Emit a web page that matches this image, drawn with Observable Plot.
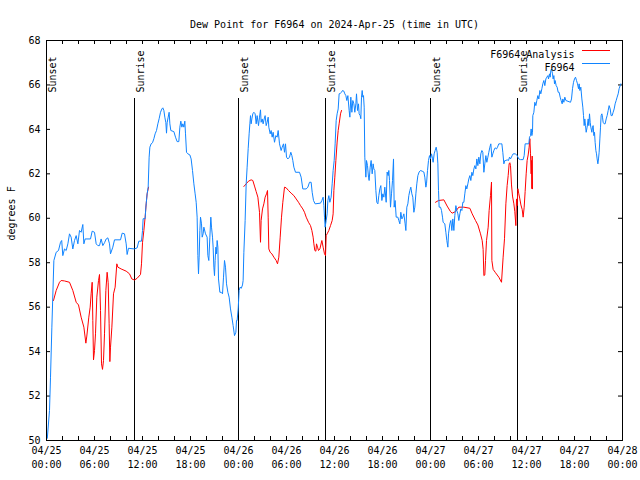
<!DOCTYPE html>
<html>
<head>
<meta charset="utf-8">
<script src="https://cdn.jsdelivr.net/npm/d3@7"></script>
<script src="https://cdn.jsdelivr.net/npm/@observablehq/plot@0.6"></script>
<style>
  html, body { margin: 0; padding: 0; background: white; }
</style>
</head>
<body>
<div id="chart"></div>
<script>
const chartTitle = "Dew Point for F6964 on 2024-Apr-25 (time in UTC)";
const yLabel = "degrees F";
const seriesNames = ["F6964 Analysis", "F6964"];
const seriesColors = ["#ff0000", "#1084ff"];

const tickHours = [0, 6, 12, 18, 24, 30, 36, 42, 48, 54, 60, 66, 72];
const tickDates = ["04/25","04/25","04/25","04/25","04/26","04/26","04/26","04/26","04/27","04/27","04/27","04/27","04/28"];
const tickTimes = ["00:00","06:00","12:00","18:00","00:00","06:00","12:00","18:00","00:00","06:00","12:00","18:00","00:00"];
const yTickValues = [50, 52, 54, 56, 58, 60, 62, 64, 66, 68];

const sunHours = [0, 11, 24, 34.875, 48, 58.875];
const sunLabels = ["Sunset", "Sunrise", "Sunset", "Sunrise", "Sunset", "Sunrise"];

// Observed F6964 dew point: [hours since 04/25 00:00 UTC, degrees F]
const observed = [
[0.1,50.1],[0.375,51.35],[0.5,52.85],[0.67,55.1],[0.92,58.1],[1.21,58.47],[1.5,58.55],[1.75,58.92],[1.9,59.0],[2.04,58.32],[2.25,58.62],[2.46,58.55],[2.67,58.85],[2.875,59.3],[3.08,59.15],[3.29,58.62],[3.5,59.0],[3.71,59.22],[3.92,58.85],[4.125,59.45],[4.33,59.37],[4.54,59.72],[4.67,58.85],[4.83,59.07],[5.5,59.07],[5.71,59.42],[6.0,59.37],[6.21,58.85],[6.42,58.77],[6.625,58.77],[6.83,59.07],[7.04,58.77],[7.25,58.9],[7.46,59.07],[7.67,59.12],[7.875,58.85],[8.0,58.4],[8.29,58.7],[8.5,59.03],[9.25,59.03],[9.46,59.33],[9.75,59.3],[9.96,58.85],[10.08,58.37],[10.25,58.65],[11.0,58.62],[11.33,58.67],[11.54,58.97],[11.875,58.97],[12.0,59.45],[12.08,59.98],
[12.33,59.98],[12.42,60.5],[12.58,61.1],[12.71,61.4],[12.83,62.75],[12.92,63.2],[13.08,63.35],[13.25,63.4],[13.42,63.58],[13.58,63.8],[13.75,63.95],[13.92,64.25],[14.08,64.48],[14.25,64.77],[14.42,64.92],[14.54,64.97],[14.67,64.85],[14.79,64.55],[14.92,64.3],[15.0,63.83],[15.08,64.3],[15.21,64.55],[15.33,64.77],[15.42,64.25],[15.54,63.95],[15.92,63.9],[16.125,63.65],[16.33,63.45],[16.54,63.45],[16.67,64.1],[16.79,64.37],[16.92,64.1],[17.04,64.25],[17.17,64.1],[17.29,64.37],[17.375,63.8],[17.5,62.97],[17.67,62.9],[17.92,62.85],[18.08,62.67],[18.25,62.15],[18.42,61.55],[18.58,61.1],[18.71,60.72],[18.83,60.05],[18.92,58.32],[19.0,57.5],[19.08,58.25],[19.17,59.45],[19.25,60.05],[19.375,59.75],[19.46,59.15],[19.58,59.3],[19.67,59.6],[19.875,59.3],[20.08,59.15],[20.17,58.32],[20.29,58.1],[20.42,59.15],[20.54,60.05],[20.625,59.6],[20.75,59.15],[20.83,58.7],[20.92,57.8],[21.0,57.42],[21.08,58.1],[21.17,58.7],[21.25,58.4],[21.33,59.0],[21.42,58.7],[21.5,57.27],[21.67,56.67],[21.83,56.67],[22.0,56.6],[22.125,57.35],[22.25,58.1],[22.375,57.8],[22.5,57.05],[22.67,56.67],[22.83,56.45],[23.0,55.92],[23.17,55.55],[23.33,55.17],[23.5,54.72],[23.67,54.87],[23.75,55.4],[23.83,55.4],[23.96,55.92],[24.08,56.75],[24.2,56.9],[24.35,56.85],[24.5,57.0],[24.58,57.2],[24.67,58.47],
[24.83,59.9],[24.96,61.55],[25.08,62.3],[25.21,63.13],[25.33,63.8],[25.42,64.25],[25.5,64.62],[25.58,64.25],[25.67,64.47],[25.79,64.7],[25.92,64.77],[26.08,64.7],[26.21,64.25],[26.33,64.62],[26.5,64.17],[26.625,64.55],[26.75,64.88],[26.83,64.32],[26.96,64.47],[27.08,64.25],[27.21,64.47],[27.33,64.62],[27.46,64.17],[27.58,64.32],[27.71,64.55],[27.79,64.1],[27.96,63.8],[28.08,63.95],[28.21,63.65],[28.33,63.87],[28.5,63.42],[28.67,63.72],[28.83,63.65],[28.96,63.95],[29.125,63.35],[29.33,63.05],[29.46,63.2],[29.625,63.35],[29.75,62.97],[29.875,63.35],[30.0,62.75],[30.17,62.67],[30.375,62.75],[30.54,62.97],[30.67,62.82],[30.79,62.6],[30.92,62.3],[31.125,62.07],[31.625,62.07],[31.83,61.85],[32.04,61.32],[32.46,61.32],[32.67,61.4],[32.875,61.62],[33.08,61.62],[33.21,61.17],[33.375,60.8],[33.58,60.65],[34.25,60.68],
[34.42,60.8],[34.58,60.95],[34.67,60.57],[34.75,60.05],[34.83,59.6],[34.96,59.9],[35.08,60.2],[35.17,60.8],[35.29,61.02],[35.42,60.72],[35.58,60.95],[35.71,61.55],[35.83,62.15],[35.96,62.6],[36.08,63.35],[36.21,64.4],[36.33,64.7],[36.46,64.92],[36.58,65.6],[36.75,65.63],[36.875,65.67],[37.0,65.75],[37.17,65.72],[37.29,65.6],[37.42,65.52],[37.54,65.3],[37.67,65.52],[37.83,64.85],[37.92,64.55],[38.04,65.45],[38.17,64.77],[38.29,65.3],[38.42,65.15],[38.54,64.77],[38.67,65.15],[38.75,65.6],[38.875,64.85],[39.0,65.15],[39.08,64.7],[39.21,64.62],[39.29,64.48],[39.375,65.45],[39.46,65.75],[39.54,65.45],[39.625,65.52],[39.71,65.0],[39.79,62.75],[39.92,61.85],[40.0,62.6],[40.125,62.37],[40.25,61.85],[40.33,61.7],[40.46,62.3],[40.58,62.6],[40.71,62.0],[40.83,62.45],[40.92,62.22],[41.04,62.15],[41.17,61.25],[41.29,60.72],[41.42,60.65],[41.54,61.02],[41.67,61.33],[41.79,61.47],[41.92,60.8],[42.04,61.1],[42.17,60.95],[42.29,61.4],[42.46,60.72],[42.58,62.08],[42.71,61.92],[42.79,62.15],[42.875,61.7],[43.0,60.5],[43.125,61.1],[43.25,61.7],[43.375,62.67],[43.46,60.5],[43.58,60.8],[43.71,60.05],[43.92,60.05],[44.04,59.9],[44.17,59.75],[44.29,60.27],[44.42,59.97],[44.54,60.05],[44.67,60.2],[44.83,59.75],[44.92,59.45],[45.04,60.5],[45.17,60.65],[45.29,61.02],[45.42,61.25],[45.54,61.4],[45.67,61.1],[45.79,60.95],[45.92,60.27],[46.04,60.5],[46.17,61.1],[46.29,61.55],[46.42,61.92],[46.58,62.08],[46.75,62.15],[46.96,62.12],[47.17,62.08],[47.29,61.85],[47.42,61.4],
[47.5,61.55],[47.625,62.15],[47.75,62.6],[47.875,62.82],[48.0,62.68],[48.125,62.9],[48.25,62.68],[48.33,62.52],[48.46,62.9],[48.58,63.05],[48.71,63.2],[48.83,62.97],[48.92,62.45],[49.0,61.25],[49.08,60.5],[49.25,60.5],[49.375,60.35],[49.5,60.05],[49.58,59.82],[49.79,59.75],[49.92,59.37],[50.04,59.0],[50.17,58.7],[50.25,59.3],[50.42,59.75],[50.54,59.9],[50.67,59.45],[50.79,59.97],[50.92,59.45],[51.04,60.12],[51.17,60.57],[51.29,60.35],[51.42,60.2],[51.54,59.9],[51.67,60.2],[51.79,60.42],[51.92,60.35],[52.04,60.72],[52.17,60.72],[52.29,61.1],[52.42,61.47],[52.54,61.32],[52.67,61.55],[52.79,61.77],[52.92,61.92],[53.04,61.7],[53.17,62.07],[53.29,61.92],[53.42,62.22],[53.54,62.37],[53.67,62.22],[53.79,62.67],[53.92,62.37],[54.04,62.75],[54.17,62.45],[54.29,62.9],[54.42,63.05],[54.54,62.97],[54.67,62.07],[54.79,62.45],[54.92,62.82],[55.04,62.52],[55.17,62.75],[55.29,62.97],[55.42,63.2],[55.54,63.35],[55.67,62.75],[55.79,62.9],[55.92,63.05],[56.08,63.17],[56.25,63.12],[56.375,63.2],[56.54,63.35],[56.75,63.35],[56.92,63.35],[57.04,62.97],[57.17,62.45],[57.29,62.6],[57.42,62.6],[57.58,62.63],[57.75,62.6],[57.875,62.75],
[58.0,62.67],[58.21,62.82],[58.33,62.9],[58.625,62.9],[58.83,62.82],[59.04,62.67],[59.25,62.64],[59.58,62.64],[59.71,62.82],[59.83,63.35],[60.29,63.35],[60.375,63.65],[60.5,63.72],[60.58,64.02],[60.67,63.72],[60.75,63.87],[60.79,64.62],[60.92,64.77],[61.04,65.22],[61.17,65.07],[61.29,65.3],[61.42,65.52],[61.54,65.37],[61.67,65.75],[61.79,65.6],[61.92,65.83],[62.04,66.05],[62.17,66.2],[62.29,65.97],[62.42,66.27],[62.54,66.35],[62.67,66.42],[62.75,66.27],[62.875,66.5],[62.96,66.35],[63.04,66.65],[63.125,66.72],[63.25,66.5],[63.33,66.27],[63.42,66.42],[63.5,66.05],[63.58,66.2],[63.71,65.97],[63.83,65.9],[63.96,65.67],[64.08,65.67],[64.21,65.45],[64.33,65.3],[64.46,65.15],[64.54,65.37],[64.67,65.22],[64.79,65.45],[64.92,65.3],[65.5,65.22],[65.625,65.37],[65.75,65.83],[65.875,66.12],[66.0,66.27],[66.125,66.35],[66.25,66.2],[66.375,66.05],[66.5,65.83],[66.58,66.05],[66.67,65.75],[66.79,65.9],[66.92,65.37],[67.04,65.0],[67.125,64.62],[67.21,64.17],[67.29,64.47],[67.375,64.17],[67.46,63.87],[67.58,64.1],[67.71,64.47],[67.79,64.17],[67.875,64.7],[67.96,64.32],[68.04,64.1],[68.17,63.87],[68.25,64.1],[68.33,64.17],[68.42,63.72],[68.5,63.87],[68.58,63.42],[68.67,63.05],[68.75,62.9],[68.83,62.67],[68.92,62.45],[69.0,62.67],[69.08,62.97],[69.17,63.57],[69.25,64.1],[69.33,64.62],[69.42,64.7],[69.5,64.55],[69.58,64.32],[69.71,64.25],[69.83,64.25],[69.96,64.47],[70.08,64.62],[70.21,64.85],[70.33,65.07],[70.46,64.92],[70.58,64.62],[70.71,64.62],[70.83,64.77],[70.96,64.92],[71.08,65.15],[71.21,65.3],[71.33,65.45],[71.46,65.6],[71.58,65.83],[71.71,65.97],[71.79,66.05]
];

// Analysis dew point, three forecast segments
const analysisDay1 = [
[0.875,56.3],[1.21,56.75],[1.625,57.12],[1.83,57.2],[2.25,57.18],[2.875,57.12],[3.29,56.75],[3.71,56.22],[4.0,56.1],[4.33,55.55],[4.67,55.1],[4.92,54.38],[5.04,54.7],[5.29,55.55],[5.46,56.0],[5.58,56.6],[5.71,57.12],[5.79,55.4],[5.875,53.63],[6.0,54.05],[6.125,54.8],[6.29,56.45],[6.5,57.2],[6.625,57.47],[6.75,55.85],[6.875,53.45],[7.0,53.2],[7.125,53.6],[7.25,54.8],[7.42,56.75],[7.58,57.57],[7.71,57.1],[7.83,55.25],[7.92,53.55],[8.0,54.2],[8.17,55.1],[8.375,56.6],[8.58,56.9],[8.79,57.95],[8.92,57.8],[9.33,57.72],[9.96,57.62],[10.375,57.5],[10.67,57.27],[11.0,57.22],[11.33,57.3],[11.75,57.47],[11.875,57.95],[12.0,58.9],[12.17,59.45],[12.33,60.05],[12.46,60.65],[12.58,61.1],[12.75,61.4]
];
const analysisDay2 = [
[24.67,61.43],[24.96,61.55],[25.25,61.67],[25.58,61.73],[25.79,61.7],[26.0,61.45],[26.21,61.2],[26.42,60.95],[26.625,60.27],[26.75,58.92],[26.83,59.9],[27.0,60.42],[27.17,60.65],[27.33,60.95],[27.5,61.1],[27.625,61.25],[27.71,60.05],[27.79,58.62],[27.96,58.47],[28.17,58.4],[28.42,58.25],[28.71,58.1],[28.875,57.95],[29.04,58.25],[29.21,59.15],[29.375,60.05],[29.54,60.72],[29.75,61.4],[29.96,61.37],[30.25,61.25],[30.58,61.13],[30.92,61.02],[31.21,60.87],[31.5,60.72],[31.75,60.57],[32.04,60.42],[32.25,60.27],[32.46,60.05],[32.75,59.82],[33.0,59.67],[33.17,59.45],[33.33,59.15],[33.42,58.85],[33.54,58.55],[33.67,58.52],[33.75,58.85],[33.875,58.7],[34.0,58.55],[34.17,58.62],[34.42,59.0],[34.58,58.7],[34.75,58.4],[34.875,58.32],[34.96,59.22],[35.08,59.3],[35.29,59.45],[35.5,59.67],[35.71,59.9],[35.83,60.2],[35.92,61.25],[36.04,61.85],[36.17,62.6],[36.33,63.43],[36.46,63.95],[36.58,64.25],[36.75,64.7],[36.875,64.85]
];
const analysisDay3 = [
[48.625,60.72],[49.0,60.8],[49.67,60.83],[50.08,60.55],[50.5,60.3],[50.71,60.23],[51.125,60.3],[51.54,60.5],[52.17,60.5],[52.92,60.45],[53.21,60.2],[53.625,59.9],[53.92,59.7],[54.25,59.3],[54.46,59.0],[54.58,58.6],[54.67,57.42],[54.79,57.45],[54.875,58.1],[55.0,59.0],[55.21,59.6],[55.33,60.35],[55.5,61.02],[55.625,61.63],[55.67,58.1],[55.83,57.7],[56.125,57.55],[56.54,57.35],[56.875,57.12],[57.08,58.25],[57.25,59.08],[57.42,60.65],[57.58,61.47],[57.71,61.92],[57.83,62.45],[57.92,62.5],[58.0,62.37],[58.125,61.5],[58.25,61.0],[58.42,60.65],[58.54,60.3],[58.67,59.67],[58.75,60.87],[58.83,60.57],[58.92,61.33],[59.04,61.1],[59.17,60.87],[59.3,60.6],[59.46,60.4],[59.58,60.05],[59.71,60.5],[59.83,61.2],[59.96,62.0],[60.08,62.6],[60.21,62.85],[60.33,63.2],[60.42,63.58],[60.5,62.9],[60.58,62.0],[60.625,62.6],[60.67,61.33],[60.71,62.8],[60.75,61.33]
];

const obsData = observed.map(([h, v]) => ({h, v}));
const anaData = [analysisDay1, analysisDay2, analysisDay3]
  .flatMap((seg, k) => seg.map(([h, v]) => ({h, v, seg: k})));

const minorTicks = d3.range(0, 73, 2);

const chart = Plot.plot({
  width: 640,
  height: 480,
  marginLeft: 46,
  marginRight: 18,
  marginTop: 40,
  marginBottom: 40,
  x: {domain: [0, 72], axis: null},
  y: {domain: [50, 68], axis: null},
  style: {fontFamily: "'DejaVu Sans Mono', monospace", fontSize: "10px", background: "white", color: "black"},
  marks: [
    Plot.ruleX(minorTicks, {x: d => d, insetTop: 396, stroke: "black"}),
    Plot.ruleX(minorTicks, {x: d => d, insetBottom: 396, stroke: "black"}),
    Plot.ruleY(yTickValues, {y: d => d, insetRight: 572, stroke: "black"}),
    Plot.ruleY(yTickValues, {y: d => d, insetLeft: 572, stroke: "black"}),
    Plot.ruleX(sunHours, {x: d => d, insetTop: 58, stroke: "black"}),
    Plot.text(sunHours, {x: d => d, text: (d, i) => sunLabels[i], frameAnchor: "top", rotate: -90, textAnchor: "start", dy: 52, dx: 2}),
    Plot.line(anaData, {x: "h", y: "v", z: "seg", stroke: seriesColors[0], strokeWidth: 1}),
    Plot.line(obsData, {x: "h", y: "v", stroke: seriesColors[1], strokeWidth: 1}),
    Plot.frame({stroke: "black"}),
    Plot.text(yTickValues, {y: d => d, text: d => String(d), frameAnchor: "left", textAnchor: "end", dx: -6}),
    Plot.text(tickHours, {x: d => d, text: (d, i) => tickDates[i], frameAnchor: "bottom", dy: 13}),
    Plot.text(tickHours, {x: d => d, text: (d, i) => tickTimes[i], frameAnchor: "bottom", dy: 27}),
    Plot.text([yLabel], {text: d => d, frameAnchor: "left", rotate: -90, dx: -35}),
    Plot.text([chartTitle], {text: d => d, frameAnchor: "top", dy: -20}),
    Plot.text([seriesNames[0]], {text: d => d, frameAnchor: "top-right", textAnchor: "end", dx: -48, dy: 10}),
    Plot.text([seriesNames[1]], {text: d => d, frameAnchor: "top-right", textAnchor: "end", dx: -48, dy: 23})
  ]
});

document.getElementById("chart").appendChild(chart);

// legend line samples
const svg = d3.select(chart);
const legendRows = [{y: 50, color: seriesColors[0]}, {y: 63, color: seriesColors[1]}];
svg.append("g").selectAll("line").data(legendRows).join("line")
  .attr("x1", 582).attr("x2", 610)
  .attr("y1", d => d.y + 0.5).attr("y2", d => d.y + 0.5)
  .attr("stroke", d => d.color).attr("stroke-width", 1);
</script>
</body>
</html>
